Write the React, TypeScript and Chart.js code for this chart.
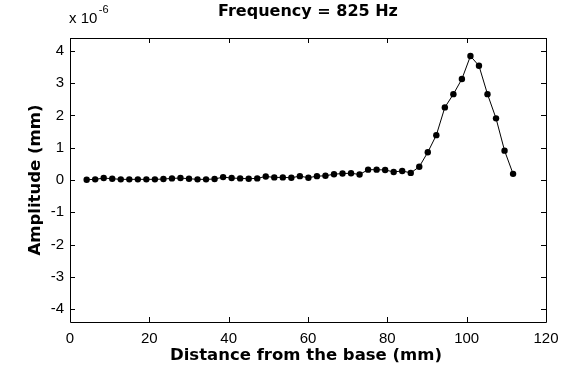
import React, { useEffect, useRef } from "react";
import { Chart, registerables } from "chart.js";

Chart.register(...registerables);

const distanceMm = [
  4.2, 6.35, 8.5, 10.65, 12.8, 14.95, 17.1, 19.25, 21.4, 23.55,
  25.7, 27.85, 30.0, 32.15, 34.3, 36.45, 38.6, 40.75, 42.9, 45.05,
  47.2, 49.35, 51.5, 53.65, 55.8, 57.95, 60.1, 62.25, 64.4, 66.55,
  68.7, 70.85, 73.0, 75.15, 77.3, 79.45, 81.6, 83.75, 85.9, 88.05,
  90.2, 92.35, 94.5, 96.65, 98.8, 100.95, 103.1, 105.25, 107.4, 109.55,
  111.7,
];

// amplitude in units of 1e-6 mm
const amplitude = [
  0.01, 0.02, 0.06, 0.04, 0.02, 0.02, 0.02, 0.02, 0.02, 0.03,
  0.05, 0.06, 0.04, 0.02, 0.02, 0.03, 0.09, 0.06, 0.05, 0.04,
  0.05, 0.11, 0.08, 0.08, 0.07, 0.12, 0.07, 0.12, 0.13, 0.18,
  0.2, 0.21, 0.17, 0.32, 0.32, 0.31, 0.25, 0.28, 0.22, 0.41,
  0.86, 1.39, 2.25, 2.66, 3.13, 3.84, 3.54, 2.66, 1.91, 0.91,
  0.19,
];

const xTicks = [0, 20, 40, 60, 80, 100, 120];
const yTicks = [-4, -3, -2, -1, 0, 1, 2, 3, 4];
const xRange = [0, 120];
const yRange = [-4.4, 4.4];

const titleText = "Frequency = 825 Hz";
const xLabel = "Distance from the base (mm)";
const yLabel = "Amplitude (mm)";
const exponentBase = "x 10";
const exponentPower = "-6";

const FONT = "'Liberation Sans', Arial, Helvetica, sans-serif";
const BOLD_FONT = "'DejaVu Sans', 'Liberation Sans', Arial, sans-serif";

const decorPlugin = {
  id: "matlabDecor",
  afterDraw(chart: any) {
    const { ctx, chartArea, scales } = chart;
    const { left, right, top, bottom } = chartArea;
    const xs = scales.x;
    const ys = scales.y;
    ctx.save();
    ctx.strokeStyle = "#000";
    ctx.lineWidth = 1;
    // box
    ctx.beginPath();
    ctx.rect(Math.round(left) + 0.5, Math.round(top) + 0.5, Math.round(right - left), Math.round(bottom - top));
    ctx.stroke();
    // inward ticks
    const tl = 5;
    ctx.beginPath();
    for (const v of xTicks) {
      const px = Math.round(xs.getPixelForValue(v)) + 0.5;
      ctx.moveTo(px, bottom);
      ctx.lineTo(px, bottom - tl);
      ctx.moveTo(px, top);
      ctx.lineTo(px, top + tl);
    }
    for (const v of yTicks) {
      const py = Math.round(ys.getPixelForValue(v)) + 0.5;
      ctx.moveTo(left, py);
      ctx.lineTo(left + tl, py);
      ctx.moveTo(right, py);
      ctx.lineTo(right - tl, py);
    }
    ctx.stroke();

    ctx.fillStyle = "#000";
    // title
    ctx.font = `bold 16px ${BOLD_FONT}`;
    ctx.textAlign = "center";
    ctx.textBaseline = "middle";
    ctx.fillText(titleText, (left + right) / 2, 12);
    // x label
    ctx.font = `bold 16.5px ${BOLD_FONT}`;
    ctx.fillText(xLabel, (left + right) / 2 - 2, 356);
    // y label
    ctx.save();
    ctx.translate(36, (top + bottom) / 2);
    ctx.rotate(-Math.PI / 2);
    ctx.fillText(yLabel, 0, 0);
    ctx.restore();
    // exponent
    ctx.font = `15px ${FONT}`;
    ctx.textAlign = "left";
    ctx.textBaseline = "alphabetic";
    ctx.fillText(exponentBase, 69, 23);
    const w = ctx.measureText(exponentBase).width;
    ctx.font = `11px ${FONT}`;
    ctx.fillText(exponentPower, 69 + w + 1.5, 13);
    ctx.restore();
  },
};

export default function App() {
  const canvasRef = useRef<HTMLCanvasElement | null>(null);

  useEffect(() => {
    document.body.style.margin = "0";
    const canvas = canvasRef.current;
    if (!canvas) return;
    const points = distanceMm.map((x, i) => ({ x, y: amplitude[i] }));
    const chart = new Chart(canvas, {
      type: "scatter",
      data: {
        datasets: [
          {
            data: points,
            showLine: true,
            borderColor: "#000",
            borderWidth: 1,
            backgroundColor: "#000",
            pointRadius: 3.2,
            pointBorderWidth: 0,
            pointBackgroundColor: "#000",
          },
        ],
      },
      options: {
        animation: false,
        responsive: false,
        devicePixelRatio: 1,
        layout: { padding: { top: 38, right: 24, left: 0, bottom: 0 } },
        plugins: {
          legend: { display: false },
          tooltip: { enabled: false },
          title: { display: false },
        },
        scales: {
          x: {
            type: "linear",
            min: xRange[0],
            max: xRange[1],
            grid: { display: false, drawTicks: false },
            border: { display: false },
            afterBuildTicks: (s: any) => {
              s.ticks = xTicks.map((v) => ({ value: v }));
            },
            afterFit: (s: any) => {
              s.height = 50;
            },
            ticks: {
              padding: 8,
              color: "#000",
              font: { family: FONT, size: 15 },
              maxRotation: 0,
              autoSkip: false,
            },
          },
          y: {
            type: "linear",
            min: yRange[0],
            max: yRange[1],
            grid: { display: false, drawTicks: false },
            border: { display: false },
            afterBuildTicks: (s: any) => {
              s.ticks = yTicks.map((v) => ({ value: v }));
            },
            afterFit: (s: any) => {
              s.width = 70;
            },
            ticks: {
              padding: 6,
              color: "#000",
              font: { family: FONT, size: 15 },
              autoSkip: false,
            },
          },
        },
      },
      plugins: [decorPlugin],
    } as any);
    return () => chart.destroy();
  }, []);

  return (
    <div style={{ width: 570, height: 372, background: "#fff" }}>
      <canvas ref={canvasRef} width={570} height={372} style={{ display: "block" }} />
    </div>
  );
}
